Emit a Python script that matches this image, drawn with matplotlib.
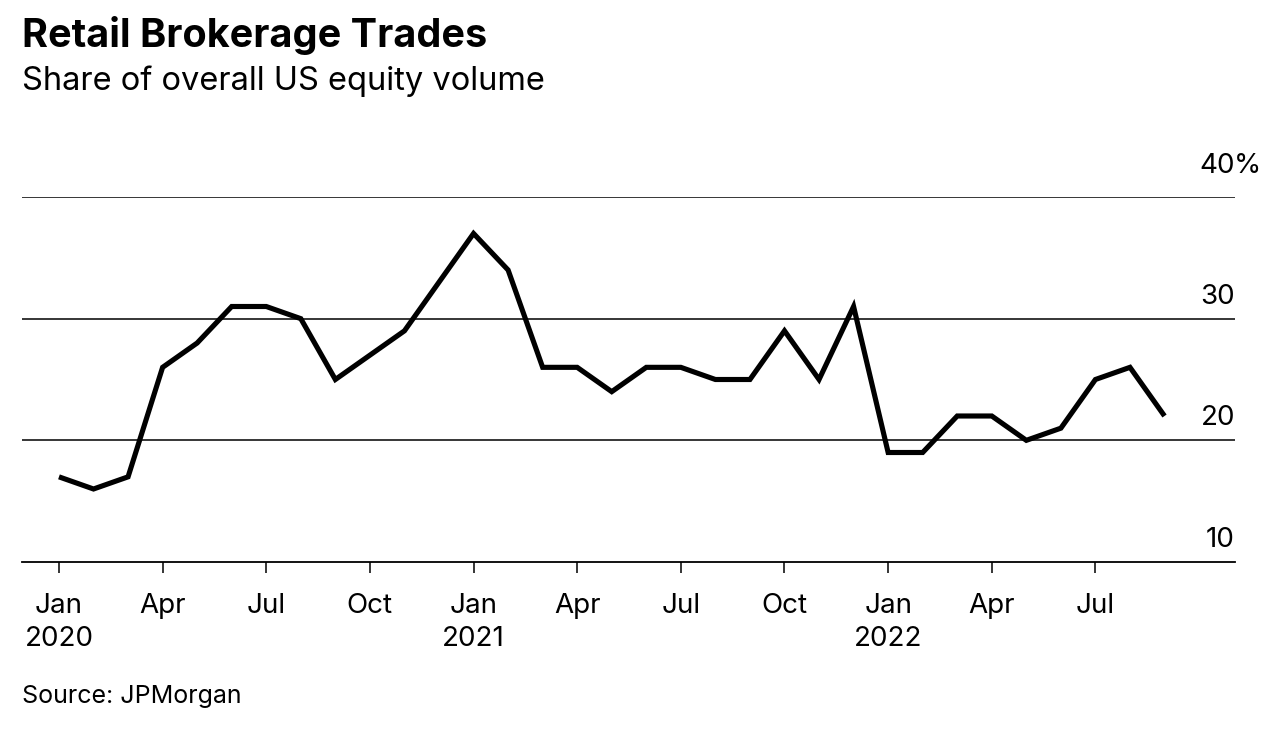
import matplotlib.pyplot as plt

plt.rcParams["font.family"] = ["Inter", "DejaVu Sans"]

months = list(range(33))  # Jan 2020 .. Sep 2022
retail_share = [
    17, 16, 17, 26, 28, 31, 31, 30, 25, 27, 29, 33,
    37, 34, 26, 26, 24, 26, 26, 25, 25, 29, 25, 31,
    19, 19, 22, 22, 20, 21, 25, 26, 22,
]
tick_months = [0, 3, 6, 9, 12, 15, 18, 21, 24, 27, 30]
tick_labels = [
    "Jan\n2020", "Apr", "Jul", "Oct", "Jan\n2021", "Apr", "Jul", "Oct",
    "Jan\n2022", "Apr", "Jul",
]
y_ticks = [10, 20, 30, 40]

W, H = 1278, 740
fig = plt.figure(figsize=(W / 100, H / 100), dpi=100)
ax = fig.add_axes([22 / W, 1 - 562 / H, (1235 - 22) / W, (562 - 197) / H])

ax.plot(months, retail_share, color="black", lw=3.7, solid_joinstyle="miter",
        solid_capstyle="butt", zorder=3)

for y in y_ticks:
    if y > 10:
        ax.axhline(y, color="black", lw=1.1, zorder=1)
    gap = 13 if y == 40 else 6.5
    ax.annotate(f"{y}", xy=(1.0, y), xycoords=("axes fraction", "data"),
                xytext=(0, gap), textcoords="offset points",
                ha="right", va="bottom", fontsize=20)
ax.annotate("%", xy=(1.0, 40), xycoords=("axes fraction", "data"),
            xytext=(-1, 13), textcoords="offset points",
            ha="left", va="bottom", fontsize=20)

ax.set_xlim(-1.07, 34.04)
ax.set_ylim(10, 40)
ax.set_yticks([])
ax.set_xticks(tick_months)
ax.set_xticklabels(tick_labels, fontsize=20, linespacing=1.35)
ax.tick_params(axis="x", length=8, width=1.1, pad=14)

for side in ["top", "left", "right"]:
    ax.spines[side].set_visible(False)
ax.spines["bottom"].set_linewidth(1.3)

fig.text(22 / W, 1 - 16 / H, "Retail Brokerage Trades", fontsize=28.5,
         fontweight="bold", va="top", ha="left")
fig.text(22 / W, 1 - 65 / H, "Share of overall US equity volume", fontsize=23.5,
         va="top", ha="left")
fig.text(22 / W, 1 - 685 / H, "Source: JPMorgan", fontsize=18,
         va="top", ha="left")

fig.savefig("out.png", dpi=100)
